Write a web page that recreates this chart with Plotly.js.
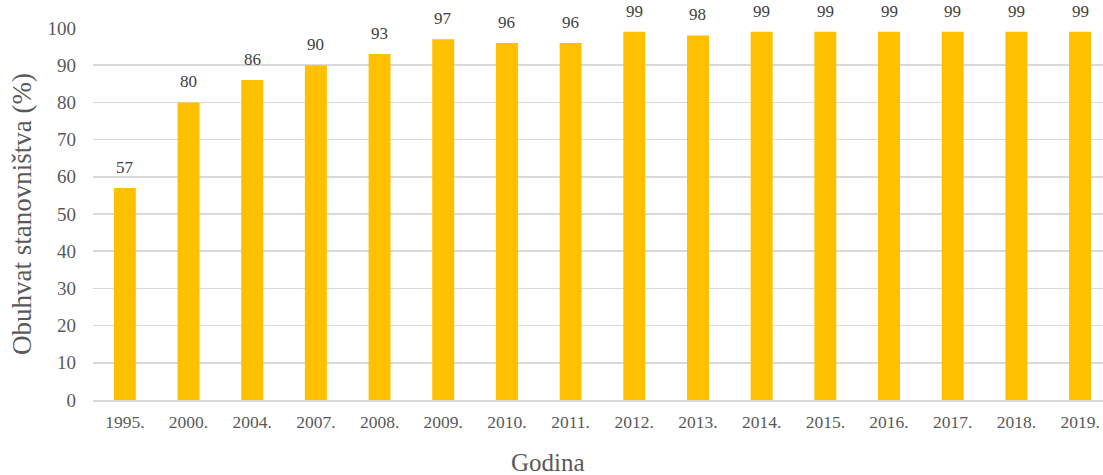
<!DOCTYPE html>
<html>
<head>
<meta charset="utf-8">
<script src="https://cdn.plot.ly/plotly-3.0.1.min.js"></script>
<style>html,body{margin:0;padding:0;background:#fff;}#chart{width:1103px;height:475px;}</style>
</head>
<body>
<div id="chart"></div>
<script>
const years = ["1995.","2000.","2004.","2007.","2008.","2009.","2010.","2011.","2012.","2013.","2014.","2015.","2016.","2017.","2018.","2019."];
const coverage = [57,80,86,90,93,97,96,96,99,98,99,99,99,99,99,99];
const yTicks = [0,10,20,30,40,50,60,70,80,90,100];

const font = "'Liberation Serif', 'Times New Roman', serif";
const trace = {
  type: "bar",
  x: years,
  y: coverage,
  marker: {color: "#FFC000"},
  cliponaxis: false,
  hoverinfo: "x+y"
};
const annotations = years.map((yr, i) => ({
  x: i, y: coverage[i], xref: "x", yref: "y",
  text: String(coverage[i]),
  showarrow: false, yanchor: "bottom", yshift: 9,
  font: {family: font, size: 17, color: "#404040"}
}));
annotations.push({
  x: 0.4505, y: -0.169, xref: "paper", yref: "paper",
  xanchor: "center", yanchor: "middle",
  text: "Godina", showarrow: false,
  font: {family: font, size: 25, color: "#595959"}
});
const layout = {
  width: 1103, height: 475,
  margin: {l: 93, r: 0, t: 28, b: 75},
  paper_bgcolor: "#fff", plot_bgcolor: "#fff",
  bargap: 0.655,
  showlegend: false,
  font: {family: font, color: "#595959"},
  annotations: annotations,
  xaxis: {
    type: "category",
    range: [-0.5, 15.36],
    tickfont: {family: font, size: 17.5, color: "#595959"},
    showgrid: false,
    showline: true, linecolor: "#d9d9d9", linewidth: 1.5,
    ticks: "",
    ticklabelstandoff: 5
  },
  yaxis: {
    range: [0, 100],
    tickvals: yTicks,
    tickfont: {family: font, size: 19, color: "#595959"},
    showgrid: true, gridcolor: "#d9d9d9", gridwidth: 1.5,
    zeroline: false,
    ticks: "",
    ticklabelstandoff: 16,
    title: {text: "Obuhvat stanovništva (%)", font: {family: font, size: 27, color: "#595959"}, standoff: 8}
  }
};
Plotly.newPlot("chart", [trace], layout, {displayModeBar: false, staticPlot: true});
</script>
</body>
</html>
